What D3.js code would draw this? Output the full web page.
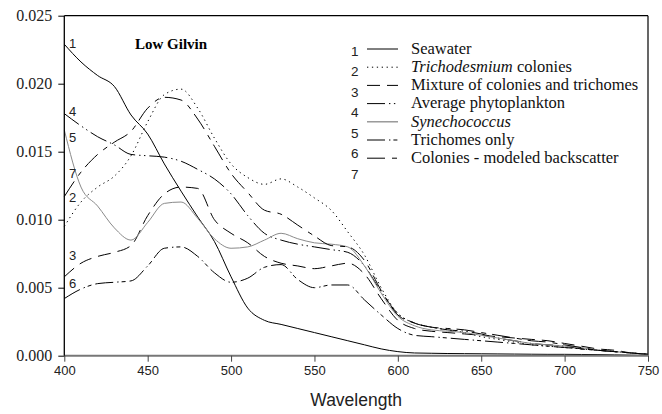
<!DOCTYPE html>
<html><head><meta charset="utf-8">
<script src="https://cdn.jsdelivr.net/npm/d3@7"></script>
<style>body{margin:0;background:#fff}</style>
</head><body>
<svg id="c" width="662" height="414"></svg>
<script>
const wavelengths = d3.range(400, 751, 10);
const seawater = [0.0229,0.0216,0.0206,0.0198,0.0177,0.0163,0.0141,0.0121,0.0102,0.0084,0.0058,0.0035,0.0026,0.0023,0.0020,0.0017,0.0014,0.0011,0.0008,0.0005,0.0003,0.0002,0.00018,0.00016,0.00015,0.00014,0.00013,0.00012,0.00011,0.0001,0.0001,0.00009,0.00008,0.00006,0.00004,0.00002];
const trichoColonies = [0.0095,0.0113,0.0124,0.0132,0.0147,0.0172,0.0192,0.0196,0.0182,0.0160,0.0141,0.0131,0.0126,0.0130,0.0124,0.0116,0.0107,0.0091,0.0074,0.0050,0.0031,0.0024,0.0021,0.0019,0.0017,0.0014,0.0012,0.0010,0.0008,0.0007,0.0006,0.0005,0.0004,0.0003,0.0002,0.0001];
const mixture = [0.0058,0.0068,0.0073,0.0076,0.0081,0.0103,0.0119,0.0124,0.0123,0.0100,0.0090,0.0083,0.0073,0.0068,0.0066,0.0064,0.0066,0.0068,0.0060,0.0042,0.0026,0.0020,0.0018,0.0017,0.0016,0.0015,0.0014,0.0013,0.0012,0.0011,0.0009,0.0007,0.0005,0.0004,0.0002,0.0001];
const avgPhyto = [0.0178,0.0169,0.0161,0.0155,0.0148,0.0147,0.0146,0.0143,0.0137,0.0130,0.0119,0.0103,0.0090,0.0085,0.0082,0.0080,0.0078,0.0076,0.0066,0.0047,0.0031,0.0024,0.0021,0.0019,0.0018,0.0016,0.0013,0.0011,0.0009,0.0008,0.0007,0.0005,0.0004,0.0003,0.0002,0.0001];
const synechococcus = [0.0166,0.0124,0.0110,0.0094,0.0085,0.0098,0.0112,0.0113,0.0101,0.0086,0.0079,0.0080,0.0085,0.0090,0.0086,0.0083,0.0082,0.0080,0.0066,0.0046,0.0029,0.0022,0.0019,0.0018,0.0017,0.0015,0.0013,0.0011,0.0009,0.0008,0.0007,0.0006,0.0004,0.0003,0.0002,0.0001];
const trichomesOnly = [0.0042,0.0049,0.0053,0.0054,0.0055,0.0066,0.0079,0.0080,0.0073,0.0061,0.0054,0.0057,0.0065,0.0067,0.0056,0.0050,0.0052,0.0052,0.0041,0.0030,0.0020,0.0015,0.0014,0.0013,0.0012,0.0011,0.0010,0.0009,0.0008,0.0007,0.0006,0.0005,0.0004,0.0003,0.0002,0.0001];
const coloniesBackscatter = [0.0117,0.0135,0.0148,0.0157,0.0165,0.0182,0.0190,0.0188,0.0174,0.0154,0.0134,0.0120,0.0107,0.0104,0.0096,0.0088,0.0081,0.0080,0.0070,0.0048,0.0030,0.0024,0.0021,0.0020,0.0019,0.0017,0.0015,0.0013,0.0011,0.0010,0.0008,0.0006,0.0004,0.0003,0.0002,0.0001];
const xTicks = [400,450,500,550,600,650,700,750];
const yTicks = [0,0.005,0.010,0.015,0.020,0.025];
const legendNames = [
  [["Seawater",false]],
  [["Trichodesmium",true],[" colonies",false]],
  [["Mixture of colonies and trichomes",false]],
  [["Average phytoplankton",false]],
  [["Synechococcus",true]],
  [["Trichomes only",false]],
  [["Colonies - modeled backscatter",false]]
];

const series = [
  {n:"1", v:seawater, color:"#000", dash:null},
  {n:"2", v:trichoColonies, color:"#000", dash:"1.3,3.6"},
  {n:"3", v:mixture, color:"#000", dash:"13,7"},
  {n:"4", v:avgPhyto, color:"#000", dash:"18,4,1.4,3.5,1.4,4"},
  {n:"5", v:synechococcus, color:"#8a8a8a", dash:null},
  {n:"6", v:trichomesOnly, color:"#000", dash:"18,4,1.4,3,4,4"},
  {n:"7", v:coloniesBackscatter, color:"#000", dash:"18,7,5,6"}
];

const svg = d3.select("#c");
const L = 64.3, R = 648, T = 15.7, B = 355.7;
const x = d3.scaleLinear().domain([400,750]).range([L,R]);
const y = d3.scaleLinear().domain([0,0.025]).range([B,T]);

svg.append("line").attr("x1",L).attr("x2",R).attr("y1",T).attr("y2",T).attr("stroke","#000").attr("stroke-width",1.2);
svg.append("line").attr("x1",R).attr("x2",R).attr("y1",T).attr("y2",B).attr("stroke","#000").attr("stroke-width",1.2);

const line = d3.line().x((d,i)=>x(wavelengths[i])).y(d=>y(d)).curve(d3.curveMonotoneX);
const g = svg.append("g");
series.forEach(s=>{
  g.append("path").attr("d", line(s.v)).attr("fill","none")
   .attr("stroke", s.color).attr("stroke-width", 1)
   .attr("stroke-dasharray", s.dash);
});

const xAxis = d3.axisBottom(x).tickValues(xTicks).tickSize(6).tickPadding(4).tickFormat(d3.format("d"));
const gx = svg.append("g").attr("transform",`translate(0,${B})`).call(xAxis);
gx.select(".domain").attr("stroke","#777").attr("stroke-width",2).attr("d",`M${L},0H${R}`);
gx.selectAll(".tick line").attr("stroke","#444");
gx.selectAll("text").attr("font-family","Liberation Sans, Arial, sans-serif").attr("font-size",13).attr("fill","#222");

const yAxis = d3.axisLeft(y).tickValues(yTicks).tickSize(6).tickPadding(6).tickFormat(d3.format(".3f"));
const gy = svg.append("g").attr("transform",`translate(${L},0)`).call(yAxis);
gy.select(".domain").attr("stroke","#000").attr("stroke-width",1.3).attr("d",`M0,${B}V${T}`);
gy.selectAll("text").attr("font-family","Liberation Serif, Times New Roman, serif").attr("font-size",16).attr("fill","#222");

svg.append("text").attr("x",(L+R)/2).attr("y",406).attr("text-anchor","middle")
  .attr("font-family","Liberation Sans, Arial, sans-serif").attr("font-size",17.5).attr("fill","#222").text("Wavelength");

svg.append("text").attr("x",135).attr("y",49).attr("font-family","Liberation Serif, Times New Roman, serif")
  .attr("font-weight","bold").attr("font-size",15).text("Low Gilvin");

const labelY = {"1":43,"4":111,"5":137,"7":173,"2":197,"3":255,"6":283};
series.forEach(s=>{
  svg.append("text").attr("x",69).attr("y",labelY[s.n]).attr("dy","0.35em")
    .attr("font-family","Liberation Sans, Arial, sans-serif").attr("font-size",13).attr("fill","#222").text(s.n);
});

const lg = svg.append("g");
series.forEach((s,i)=>{
  const ty = 48 + i*18.2;
  lg.append("text").attr("x",351).attr("y",51 + i*20.5).attr("dy","0.35em")
    .attr("font-family","Liberation Sans, Arial, sans-serif").attr("font-size",13.5).attr("fill","#222").text(s.n);
  lg.append("line").attr("x1",367).attr("x2",398).attr("y1",ty+1).attr("y2",ty+1)
    .attr("stroke",s.color).attr("stroke-width",s.color==="#000"?1:1.3).attr("stroke-dasharray",s.dash);
  const t = lg.append("text").attr("x",411).attr("y",ty).attr("dy","0.35em")
    .attr("font-family","Liberation Serif, Times New Roman, serif").attr("font-size",16.5).attr("fill","#111");
  legendNames[i].forEach(p=>{ t.append("tspan").attr("font-style",p[1]?"italic":"normal").text(p[0]); });
});
</script>
</body></html>
